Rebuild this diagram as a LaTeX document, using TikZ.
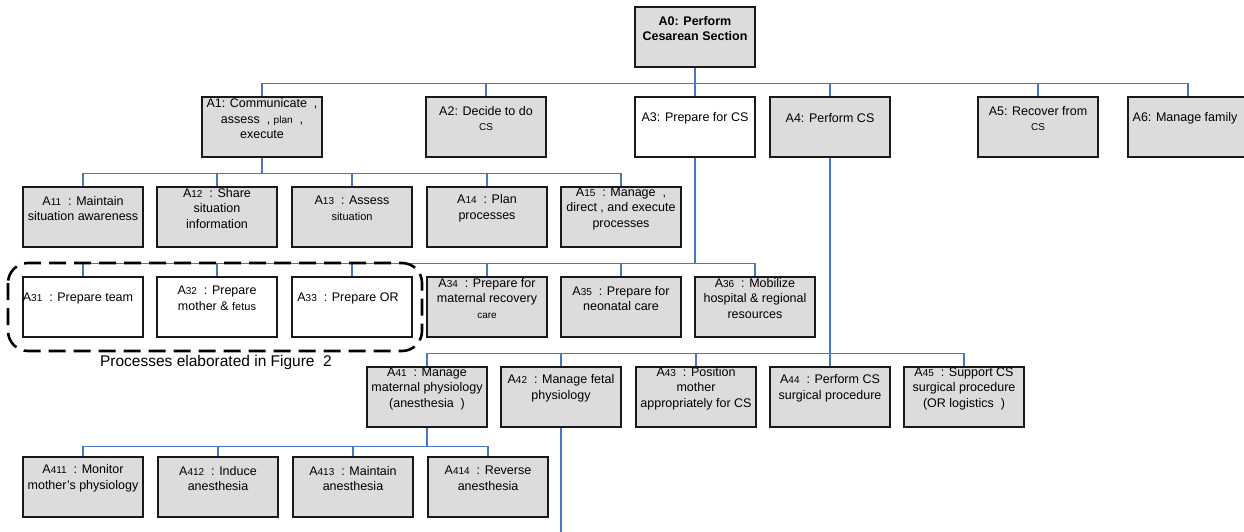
\documentclass[tikz,border=0pt]{standalone}
\usepackage{fontspec}
\setmainfont{Liberation Sans}
\definecolor{boxgray}{RGB}{220,220,220}
\definecolor{connblue}{RGB}{70,118,196}
\newcommand\smd[1]{{\fontsize{10}{11}\selectfont #1}}
\begin{document}
\begin{tikzpicture}[x=1pt,y=-1pt,
  box/.style={draw=black!90, line width=1.2pt, fill=boxgray, minimum width=120pt, minimum height=60pt, inner sep=0pt},
  wbox/.style={box, fill=white},
  txt/.style={align=center, font=\fontsize{12.5}{15.5}\selectfont, inner sep=0pt},
  conn/.style={draw=connblue, line width=1.3pt},
  groupbox/.style={draw=black, line width=2.6pt, dash pattern=on 17pt off 8pt, rounded corners=20pt},
]
\useasboundingbox (0,0) rectangle (1244,532);
\clip (0,0) rectangle (1244,532);

% ---- boxes ----
\node[box] (a0) at (695,37) {};
\node[box] (a1) at (262,127) {};
\node[box] (a2) at (486,127) {};
\node[wbox] (a3) at (695,127) {};
\node[box] (a4) at (830,127) {};
\node[box] (a5) at (1038,127) {};
\node[box] (a6) at (1188,127) {};

\node[box] (a11) at (83,217) {};
\node[box] (a12) at (217,217) {};
\node[box] (a13) at (352,217) {};
\node[box] (a14) at (487,217) {};
\node[box] (a15) at (621,217) {};

\node[wbox] (a31) at (83,307) {};
\node[wbox] (a32) at (217,307) {};
\node[wbox] (a33) at (352,307) {};
\node[box] (a34) at (487,307) {};
\node[box] (a35) at (621,307) {};
\node[box] (a36) at (755,307) {};

\node[box] (a41) at (427,397) {};
\node[box] (a42) at (561,397) {};
\node[box] (a43) at (696,397) {};
\node[box] (a44) at (830,397) {};
\node[box] (a45) at (964,397) {};

\node[box] (a411) at (83,487) {};
\node[box] (a412) at (218,487) {};
\node[box] (a413) at (353,487) {};
\node[box] (a414) at (488,487) {};

% ---- texts ----
\node[txt, font=\bfseries\fontsize{12.5}{15.5}\selectfont] at ([yshift=8.5pt]a0.center) {A0: Perform\\Cesarean Section};
\node[txt] at ([yshift=8pt]a1.center) {A1: Communicate\ \ ,\\assess\ \ , \smd{plan}\ \ ,\\execute};
\node[txt] at ([yshift=8.5pt]a2.center) {A2: Decide to do\\\smd{CS}};
\node[txt] at ([yshift=9pt]a3.center) {A3: Prepare for CS};
\node[txt] at ([yshift=9pt]a4.center) {A4: Perform CS};
\node[txt] at ([yshift=8.5pt]a5.center) {A5: Recover from\\\smd{CS}};
\node[txt] at ([yshift=9pt,xshift=-3pt]a6.center) {A6: Manage family};

\node[txt] at ([yshift=8.5pt]a11.center) {A\smd{11}\ \ : Maintain\\situation awareness};
\node[txt] at ([yshift=8.5pt]a12.center) {A\smd{12}\ \ : Share\\situation\\information};
\node[txt] at ([yshift=8.5pt]a13.center) {A\smd{13}\ \ : Assess\\{\fontsize{11}{12}\selectfont situation}};
\node[txt] at ([yshift=8.5pt]a14.center) {A\smd{14}\ \ : Plan\\processes};
\node[txt] at ([yshift=8.5pt]a15.center) {A\smd{15}\ \ : Manage\ \ ,\\direct , and execute\\processes};

\node[txt] at ([yshift=9pt,xshift=-5pt]a31.center) {A\smd{31}\ \ : Prepare team};
\node[txt] at ([yshift=8.5pt]a32.center) {A\smd{32}\ \ : Prepare\\mother \& {\fontsize{11}{12}\selectfont fetus}};
\node[txt] at ([yshift=9pt,xshift=-4pt]a33.center) {A\smd{33}\ \ : Prepare OR};
\node[txt] at ([yshift=8.5pt]a34.center) {A\smd{34}\ \ : Prepare for\\maternal recovery\\\smd{care}};
\node[txt] at ([yshift=8.5pt]a35.center) {A\smd{35}\ \ : Prepare for\\neonatal care};
\node[txt] at ([yshift=8.5pt]a36.center) {A\smd{36}\ \ : Mobilize\\hospital \& regional\\resources};

\node[txt] at ([yshift=8.5pt]a41.center) {A\smd{41}\ \ : Manage\\maternal physiology\\(anesthesia\ \ )};
\node[txt] at ([yshift=8.5pt]a42.center) {A\smd{42}\ \ : Manage fetal\\physiology};
\node[txt] at ([yshift=8.5pt]a43.center) {A\smd{43}\ \ : Position\\mother\\appropriately for CS};
\node[txt] at ([yshift=8.5pt]a44.center) {A\smd{44}\ \ : Perform CS\\surgical procedure};
\node[txt] at ([yshift=8.5pt]a45.center) {A\smd{45}\ \ : Support CS\\surgical procedure\\(OR logistics\ \ )};

\node[txt] at ([yshift=8.5pt]a411.center) {A\smd{411}\ \ : Monitor\\mother's physiology};
\node[txt] at ([yshift=8.5pt]a412.center) {A\smd{412}\ \ : Induce\\anesthesia};
\node[txt] at ([yshift=8.5pt]a413.center) {A\smd{413}\ \ : Maintain\\anesthesia};
\node[txt] at ([yshift=8.5pt]a414.center) {A\smd{414}\ \ : Reverse\\anesthesia};

% ---- connectors ----
\foreach \c in {a1,a2,a3,a4,a5,a6}
  \draw[conn] (a0.south) -- ++(0,16) -| (\c.north);
\foreach \c in {a11,a12,a13,a14,a15}
  \draw[conn] (a1.south) -- ++(0,16) -| (\c.north);
\foreach \c in {a31,a32,a33,a34,a35,a36}
  \draw[conn] (a3.south) -- ++(0,106) -| (\c.north);
\foreach \c in {a41,a42,a43,a44,a45}
  \draw[conn] (a4.south) -- ++(0,196) -| (\c.north);
\foreach \c in {a411,a412,a413,a414}
  \draw[conn] (a41.south) -- ++(0,19) -| (\c.north);
\coordinate (a42end) at (561,534);
\draw[conn] (a42.south) -- (a42end);

% ---- group ----
\draw[groupbox] (8,263) rectangle (422,351);
\node[font=\fontsize{15.5}{18}\selectfont, inner sep=0pt] (grouplbl) at (216,362) {Processes elaborated in Figure\ \ 2};
\end{tikzpicture}
\end{document}
